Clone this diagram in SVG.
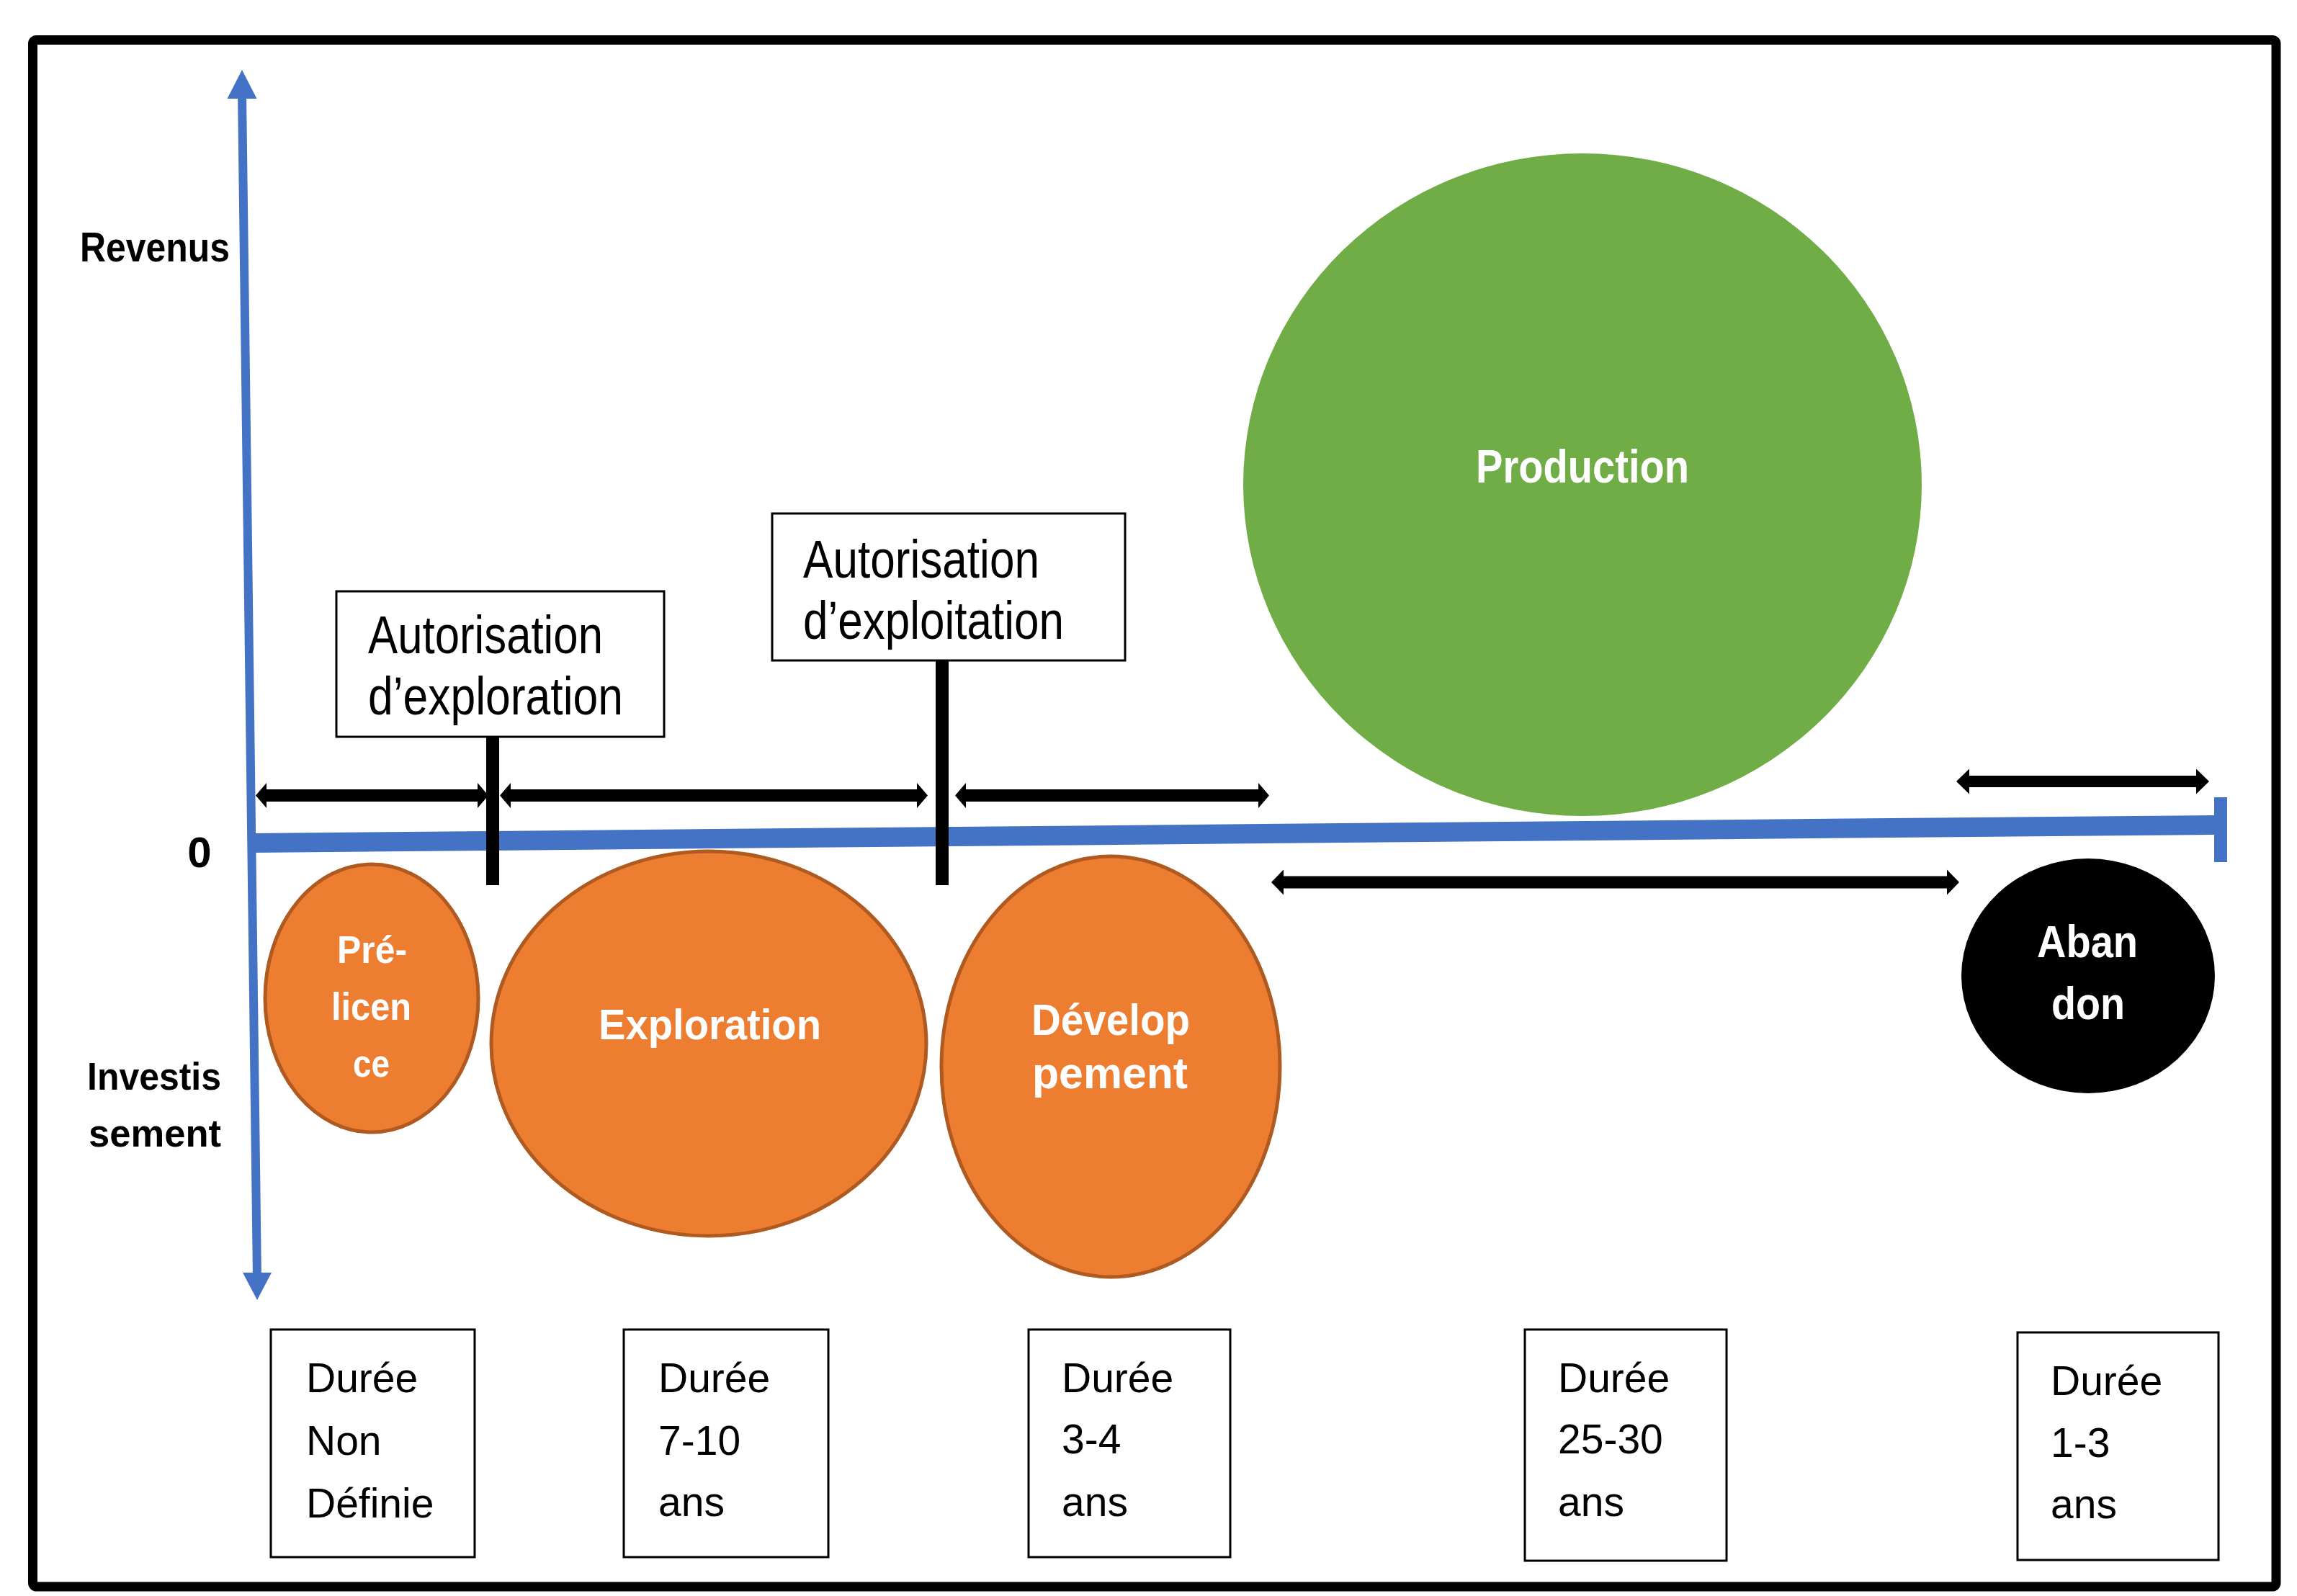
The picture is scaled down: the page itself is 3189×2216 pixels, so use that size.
<svg xmlns="http://www.w3.org/2000/svg" width="3189" height="2216" viewBox="0 0 3189 2216">
<style>
.lbl{font-family:"Liberation Sans",Arial,sans-serif;font-weight:bold;fill:#000}
.wl{font-family:"Liberation Sans",Arial,sans-serif;font-weight:bold;fill:#fff}
.bx{fill:#fff;stroke:#000;stroke-width:3}
.bt{font-family:"Liberation Sans",Arial,sans-serif;fill:#000}
.orange{fill:#ED7D31;stroke:#AE5A21;stroke-width:5}
.dbl{fill:#000}
.blue{fill:#4472C4}
</style>
<rect x="0" y="0" width="3189" height="2216" fill="#fff"/>
<rect x="45.5" y="55.5" width="3114.5" height="2147.5" rx="5" fill="none" stroke="#000" stroke-width="13"/>

<g id="production">
<ellipse cx="2197" cy="673" rx="471" ry="460" fill="#70AD47"/>
<text class="wl" x="2049" y="670" font-size="64" textLength="296" lengthAdjust="spacingAndGlyphs">Production</text>
</g>
<g id="prelicence">
<ellipse class="orange" cx="516" cy="1386" rx="148" ry="186"/>
<text class="wl" x="468" y="1337" font-size="53" textLength="97" lengthAdjust="spacingAndGlyphs">Pré-</text>
<text class="wl" x="460" y="1416" font-size="53" textLength="111" lengthAdjust="spacingAndGlyphs">licen</text>
<text class="wl" x="490" y="1495" font-size="53" textLength="51" lengthAdjust="spacingAndGlyphs">ce</text>
</g>
<g id="exploration">
<ellipse class="orange" cx="984" cy="1449" rx="302" ry="267"/>
<text class="wl" x="831" y="1443" font-size="60" textLength="309" lengthAdjust="spacingAndGlyphs">Exploration</text>
</g>
<g id="developpement">
<ellipse class="orange" cx="1542" cy="1481" rx="235" ry="292"/>
<text class="wl" x="1432" y="1437" font-size="61" textLength="220" lengthAdjust="spacingAndGlyphs">Dévelop</text>
<text class="wl" x="1433" y="1511" font-size="61" textLength="216" lengthAdjust="spacingAndGlyphs">pement</text>
</g>
<g id="abandon">
<ellipse cx="2899" cy="1355" rx="176" ry="163" fill="#000"/>
<text class="wl" x="2828" y="1329" font-size="63" textLength="140" lengthAdjust="spacingAndGlyphs">Aban</text>
<text class="wl" x="2848" y="1415" font-size="63" textLength="102" lengthAdjust="spacingAndGlyphs">don</text>
</g>

<g id="axes">
<line x1="336" y1="130" x2="357" y2="1775" stroke="#4472C4" stroke-width="12"/>
<polygon class="blue" points="336,97 356.5,137 315.5,137"/>
<polygon class="blue" points="357,1805 377,1767 337,1767"/>
<line x1="349" y1="1170.5" x2="3090" y2="1145.3" stroke="#4472C4" stroke-width="27"/>
<rect class="blue" x="3074" y="1107" width="18" height="90"/>
</g>

<g id="labels">
<text class="lbl" x="111" y="363" font-size="57" textLength="208" lengthAdjust="spacingAndGlyphs">Revenus</text>
<text class="lbl" x="277" y="1204" font-size="60" text-anchor="middle">0</text>
<text class="lbl" x="121" y="1513" font-size="54" textLength="186" lengthAdjust="spacingAndGlyphs">Investis</text>
<text class="lbl" x="123" y="1592" font-size="54" textLength="184" lengthAdjust="spacingAndGlyphs">sement</text>
</g>

<g id="connectors">
<rect x="675" y="1021" width="18" height="208" fill="#000"/>
<rect x="1299" y="915" width="18" height="314" fill="#000"/>
<path class="dbl" d="M355 1104.5 L370 1087 L370 1096 L663 1096 L663 1087 L678 1104.5 L663 1122 L663 1113 L370 1113 L370 1122 Z"/>
<path class="dbl" d="M694 1104.5 L709 1087 L709 1096 L1273 1096 L1273 1087 L1288 1104.5 L1273 1122 L1273 1113 L709 1113 L709 1122 Z"/>
<path class="dbl" d="M1326 1104.5 L1341 1087 L1341 1096 L1747 1096 L1747 1087 L1762 1104.5 L1747 1122 L1747 1113 L1341 1113 L1341 1122 Z"/>
<path class="dbl" d="M1765 1225 L1782 1207.5 L1782 1216.5 L2703 1216.5 L2703 1207.5 L2720 1225 L2703 1242.5 L2703 1233.5 L1782 1233.5 L1782 1242.5 Z"/>
<path class="dbl" d="M2716 1085 L2734 1067.5 L2734 1077 L3049 1077 L3049 1067.5 L3067 1085 L3049 1102.5 L3049 1093 L2734 1093 L2734 1102.5 Z"/>
</g>

<g id="auth-exploration">
<rect class="bx" x="467" y="821" width="455" height="202"/>
<text class="bt" x="511" y="907" font-size="74" textLength="326" lengthAdjust="spacingAndGlyphs">Autorisation</text>
<text class="bt" x="511" y="992" font-size="74" textLength="354" lengthAdjust="spacingAndGlyphs">d’exploration</text>
</g>
<g id="auth-exploitation">
<rect class="bx" x="1072" y="713" width="490" height="204"/>
<text class="bt" x="1115" y="802" font-size="74" textLength="328" lengthAdjust="spacingAndGlyphs">Autorisation</text>
<text class="bt" x="1115" y="887" font-size="74" textLength="362" lengthAdjust="spacingAndGlyphs">d’exploitation</text>
</g>

<g id="duree-prelicence">
<rect class="bx" x="376" y="1846" width="283" height="316"/>
<text class="bt" x="425" y="1933" font-size="57">Durée</text>
<text class="bt" x="425" y="2020" font-size="57">Non</text>
<text class="bt" x="425" y="2107" font-size="57">Définie</text>
</g>
<g id="duree-exploration">
<rect class="bx" x="866" y="1846" width="284" height="316"/>
<text class="bt" x="914" y="1933" font-size="57">Durée</text>
<text class="bt" x="914" y="2020" font-size="57">7-10</text>
<text class="bt" x="914" y="2105" font-size="57">ans</text>
</g>
<g id="duree-developpement">
<rect class="bx" x="1428" y="1846" width="280" height="316"/>
<text class="bt" x="1474" y="1933" font-size="57">Durée</text>
<text class="bt" x="1474" y="2018" font-size="57">3-4</text>
<text class="bt" x="1474" y="2105" font-size="57">ans</text>
</g>
<g id="duree-production">
<rect class="bx" x="2117" y="1846" width="280" height="321"/>
<text class="bt" x="2163" y="1933" font-size="57">Durée</text>
<text class="bt" x="2163" y="2018" font-size="57">25-30</text>
<text class="bt" x="2163" y="2105" font-size="57">ans</text>
</g>
<g id="duree-abandon">
<rect class="bx" x="2801" y="1850" width="279" height="316"/>
<text class="bt" x="2847" y="1937" font-size="57">Durée</text>
<text class="bt" x="2847" y="2023" font-size="57">1-3</text>
<text class="bt" x="2847" y="2108" font-size="57">ans</text>
</g>
</svg>
